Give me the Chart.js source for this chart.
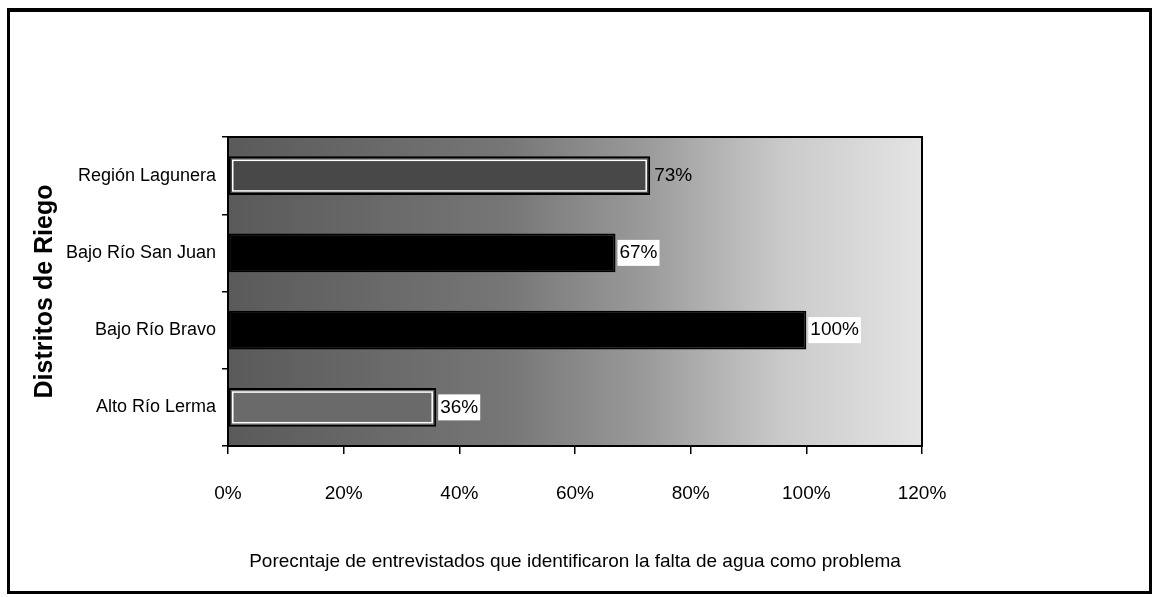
<!DOCTYPE html>
<html>
<head>
<meta charset="utf-8">
<script src="https://cdn.jsdelivr.net/npm/chart.js@4/dist/chart.umd.min.js"></script>
<style>
  html, body { margin: 0; padding: 0; background: #fff; }
  #frame { position: absolute; left: 7px; top: 8px; width: 1139px; height: 579px; border: 3px solid #000; border-top-width: 4px; }
  #wrap { position: absolute; left: 0; top: 0; width: 1158px; height: 597px; }
</style>
</head>
<body>
<div id="frame"></div>
<div id="wrap"><canvas id="myChart" width="1158" height="597"></canvas></div>
<script>
const districts = ["Región Lagunera", "Bajo Río San Juan", "Bajo Río Bravo", "Alto Río Lerma"];
const percentages = [73, 67, 100, 36];
const barColors = ["#484848", "#000000", "#000000", "#6a6a6a"];
const borderColors = ["#000000", "#000000", "#000000", "#000000"];
const xTicks = [0, 20, 40, 60, 80, 100, 120];

const canvas = document.getElementById("myChart");
const ctx = canvas.getContext("2d");
const labelFont = "'Liberation Sans', Arial, sans-serif";

// fondo degradado del área de trazado + marco
const plotBg = {
  id: "plotBg",
  beforeDraw(chart) {
    const a = chart.chartArea;
    const c = chart.ctx;
    const g = c.createLinearGradient(a.left, 0, a.right, 0);
    g.addColorStop(0, "#5a5a5a");
    g.addColorStop(0.4, "#767676");
    g.addColorStop(0.6, "#9a9a9a");
    g.addColorStop(0.8, "#cacaca");
    g.addColorStop(1, "#e4e4e4");
    c.save();
    c.fillStyle = g;
    c.fillRect(a.left, a.top, a.right - a.left, a.bottom - a.top);
    c.restore();
  },
  afterDraw(chart) {
    const a = chart.chartArea;
    const c = chart.ctx;
    c.save();
    c.strokeStyle = "#000";
    c.lineWidth = 2;
    c.strokeRect(a.left, a.top, a.right - a.left, a.bottom - a.top);
    c.restore();
  }
};

// etiquetas de valor al lado de cada barra
const valueLabels = {
  id: "valueLabels",
  afterDatasetsDraw(chart) {
    const c = chart.ctx;
    const meta = chart.getDatasetMeta(0);
    c.save();
    c.font = "19px " + labelFont;
    c.textBaseline = "middle";
    meta.data.forEach((bar, i) => {
      const txt = percentages[i] + "%";
      const w = c.measureText(txt).width;
      if (i !== 0) {
        c.fillStyle = "#fff";
        c.fillRect(bar.x + 2, bar.y - 13, w + 4, 26);
      }
      c.fillStyle = "#000";
      c.fillText(txt, bar.x + 4, bar.y);
    });
    c.restore();
  }
};

// contorno blanco interior en las barras claras
const barOutline = {
  id: "barOutline",
  afterDatasetsDraw(chart) {
    const c = chart.ctx;
    const meta = chart.getDatasetMeta(0);
    c.save();
    c.strokeStyle = "#fff";
    c.lineWidth = 1.5;
    meta.data.forEach((bar, i) => {
      if (i === 0 || i === 3) {
        const h = bar.height;
        c.strokeRect(bar.base + 4, bar.y - h / 2 + 4, bar.x - bar.base - 8, h - 8);
      }
    });
    c.restore();
  }
};

new Chart(ctx, {
  type: "bar",
  data: {
    labels: districts,
    datasets: [{
      data: percentages,
      backgroundColor: barColors,
      borderColor: borderColors,
      borderWidth: 2,
      borderSkipped: false,
      barPercentage: 0.5,
      categoryPercentage: 1.0
    }]
  },
  options: {
    indexAxis: "y",
    responsive: false,
    animation: false,
    layout: { padding: { top: 137, right: 236, left: 30, bottom: 20 } },
    plugins: {
      legend: { display: false },
      tooltip: { enabled: false }
    },
    scales: {
      x: {
        min: 0,
        max: 120,
        afterBuildTicks(scale) {
          scale.ticks = xTicks.map(v => ({ value: v }));
        },
        afterFit(scale) { scale.height = 131; },
        border: { display: true, color: "#000", width: 2 },
        grid: { drawOnChartArea: false, drawTicks: true, tickLength: 8, color: "#000", lineWidth: 1.5 },
        ticks: {
          padding: 28,
          color: "#000",
          font: { family: labelFont, size: 19 },
          callback: v => v + "%"
        },
        title: {
          display: true,
          text: "Porecntaje de entrevistados que identificaron la falta de agua como problema",
          color: "#000",
          font: { family: labelFont, size: 19 },
          padding: { top: 26 }
        }
      },
      y: {
        afterFit(scale) { scale.width = 228 - 30; },
        border: { display: true, color: "#000", width: 2 },
        grid: { offset: true, drawOnChartArea: false, drawTicks: true, tickLength: 6, color: "#000", lineWidth: 1.5 },
        ticks: {
          padding: 6,
          color: "#000",
          font: { family: labelFont, size: 18 }
        },
        title: {
          display: true,
          text: "Distritos de Riego",
          color: "#000",
          font: { family: labelFont, size: 25, weight: "bold" },
          padding: { bottom: 0, top: 0 }
        }
      }
    }
  },
  plugins: [plotBg, barOutline, valueLabels]
});
</script>
</body>
</html>
